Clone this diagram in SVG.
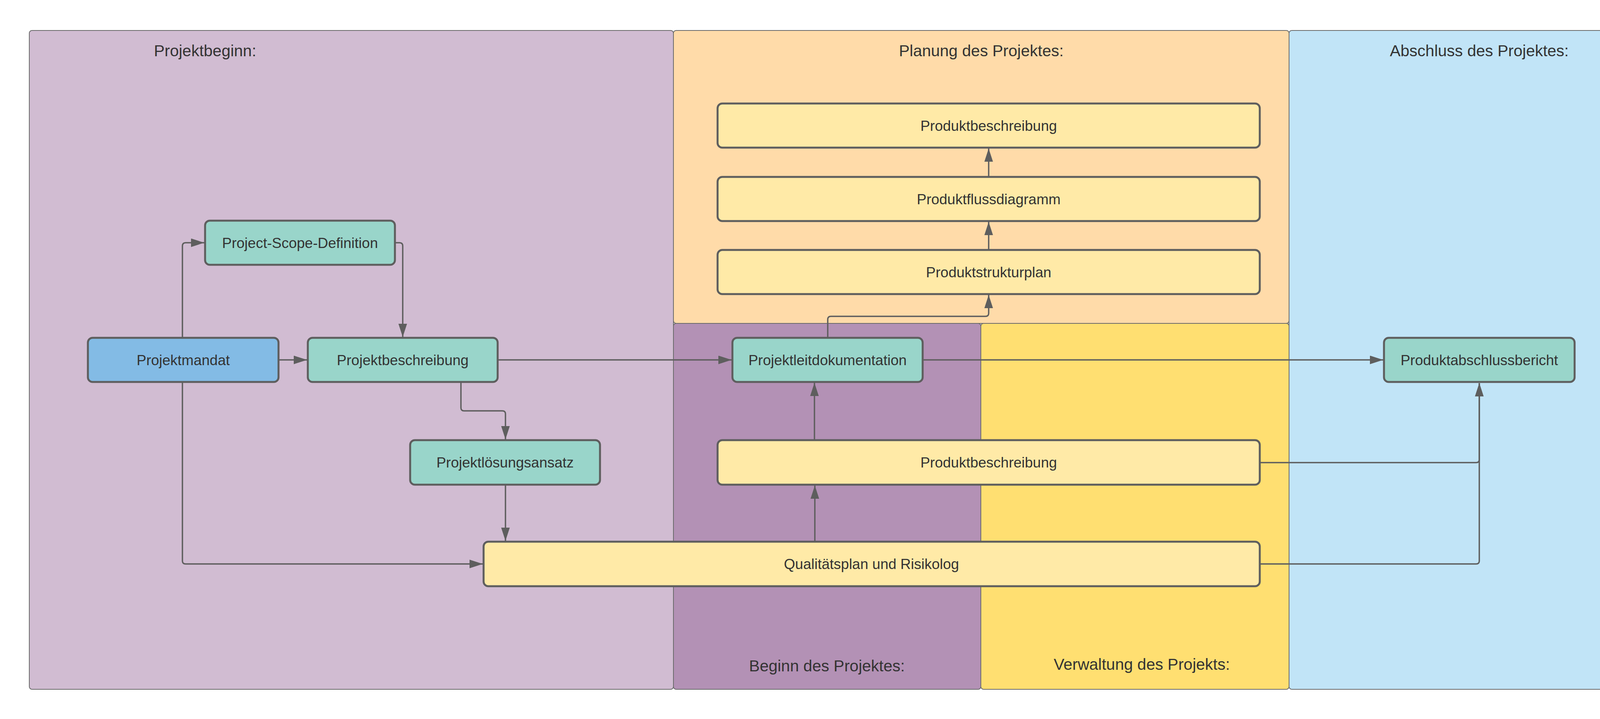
<svg xmlns="http://www.w3.org/2000/svg" width="4350" height="1841" viewBox="0 0 4350 1841">
<style>
.panel{stroke:#6b6b6b;stroke-width:2}
.node{stroke:#5e5e5e;stroke-width:5}
.teal{fill:#99d5ca}
.yel{fill:#ffeaa7}
.blue{fill:#83bbe5}
.t{font-family:"Liberation Sans",Arial,sans-serif;fill:#333333;text-anchor:middle}
.nt{font-size:37px}
.tt{font-size:41px}
.c{fill:none;stroke:#5e5e5e;stroke-width:3.5}
</style>
<defs>
<marker id="ah" markerUnits="userSpaceOnUse" markerWidth="36" markerHeight="24" refX="34" refY="11" orient="auto">
<path d="M0,0 L34,11 L0,22 Z" fill="#5e5e5e"/>
</marker>
</defs>
<rect width="4350" height="1841" fill="#ffffff"/>
<g id="panels">
<g id="panel-projektbeginn"><rect class="panel" x="75" y="78" width="1649" height="1687" rx="7" fill="#d1bcd2"/><text class="t tt" x="525" y="144">Projektbeginn:</text></g>
<g id="panel-planung"><rect class="panel" x="1724" y="78" width="1576" height="750" rx="7" fill="#ffdba9"/><text class="t tt" x="2512" y="144">Planung des Projektes:</text></g>
<g id="panel-beginn"><rect class="panel" x="1724" y="828" width="787" height="937" rx="7" fill="#b391b5"/><text class="t tt" x="2117" y="1719">Beginn des Projektes:</text></g>
<g id="panel-verwaltung"><rect class="panel" x="2511" y="828" width="789" height="937" rx="7" fill="#ffdf71"/><text class="t tt" x="2923" y="1715">Verwaltung des Projekts:</text></g>
<g id="panel-abschluss"><rect class="panel" x="3300" y="78" width="974" height="1687" rx="7" fill="#c1e4f7"/><text class="t tt" x="3787" y="144">Abschluss des Projektes:</text></g>
</g>
<g id="connectors">
<path class="c" d="M713,921.5 H786" marker-end="url(#ah)"/>
<path class="c" d="M467,865 V630 Q467,621.5 475,621.5 H523" marker-end="url(#ah)"/>
<path class="c" d="M1011,621.5 H1023 Q1031,621.5 1031,630 V863" marker-end="url(#ah)"/>
<path class="c" d="M1180,978 V1044 Q1180,1052 1188,1052 H1286 Q1294,1052 1294,1060 V1125" marker-end="url(#ah)"/>
<path class="c" d="M1294,1241 V1385" marker-end="url(#ah)"/>
<path class="c" d="M467,978 V1436 Q467,1444 475,1444 H1236" marker-end="url(#ah)"/>
<path class="c" d="M1274,921.5 H1873" marker-end="url(#ah)"/>
<path class="c" d="M2086,1387 V1243" marker-end="url(#ah)"/>
<path class="c" d="M2085,1127 V980" marker-end="url(#ah)"/>
<path class="c" d="M2119,865 V818 Q2119,810 2127,810 H2523 Q2531,810 2531,802 V755" marker-end="url(#ah)"/>
<path class="c" d="M2531,640 V568" marker-end="url(#ah)"/>
<path class="c" d="M2531,453 V380" marker-end="url(#ah)"/>
<path class="c" d="M2362,921.5 H3541" marker-end="url(#ah)"/>
<path class="c" d="M3225,1184.5 H3779 Q3787,1184.5 3787,1176.5 V981" marker-end="url(#ah)"/>
<path class="c" d="M3225,1444 H3779 Q3787,1444 3787,1436 V981" marker-end="url(#ah)"/>
</g>
<g id="node-projektmandat"><rect class="node blue" x="225" y="865" width="488" height="113" rx="12"/><text class="t nt" x="469" y="934.5">Projektmandat</text></g>
<g id="node-projektbeschreibung"><rect class="node teal" x="788" y="865" width="486" height="113" rx="12"/><text class="t nt" x="1031" y="934.5">Projektbeschreibung</text></g>
<g id="node-psd"><rect class="node teal" x="525" y="565" width="486" height="113" rx="12"/><text class="t nt" x="768" y="634.5">Project-Scope-Definition</text></g>
<g id="node-pla"><rect class="node teal" x="1050" y="1127" width="486" height="114" rx="12"/><text class="t nt" x="1293" y="1197">Projektlösungsansatz</text></g>
<g id="node-qualitaet"><rect class="node yel" x="1238" y="1387" width="1987" height="114" rx="12"/><text class="t nt" x="2231" y="1457">Qualitätsplan und Risikolog</text></g>
<g id="node-pb-lower"><rect class="node yel" x="1837" y="1127" width="1388" height="114" rx="12"/><text class="t nt" x="2531" y="1197">Produktbeschreibung</text></g>
<g id="node-pld"><rect class="node teal" x="1875" y="865" width="487" height="113" rx="12"/><text class="t nt" x="2118.5" y="934.5">Projektleitdokumentation</text></g>
<g id="node-psp"><rect class="node yel" x="1837" y="640" width="1388" height="113" rx="12"/><text class="t nt" x="2531" y="709.5">Produktstrukturplan</text></g>
<g id="node-pfd"><rect class="node yel" x="1837" y="453" width="1388" height="113" rx="12"/><text class="t nt" x="2531" y="522.5">Produktflussdiagramm</text></g>
<g id="node-pb-top"><rect class="node yel" x="1837" y="265" width="1388" height="113" rx="12"/><text class="t nt" x="2531" y="334.5">Produktbeschreibung</text></g>
<g id="node-pab"><rect class="node teal" x="3543" y="865" width="488" height="113" rx="12"/><text class="t nt" x="3787" y="934.5">Produktabschlussbericht</text></g>
</svg>
